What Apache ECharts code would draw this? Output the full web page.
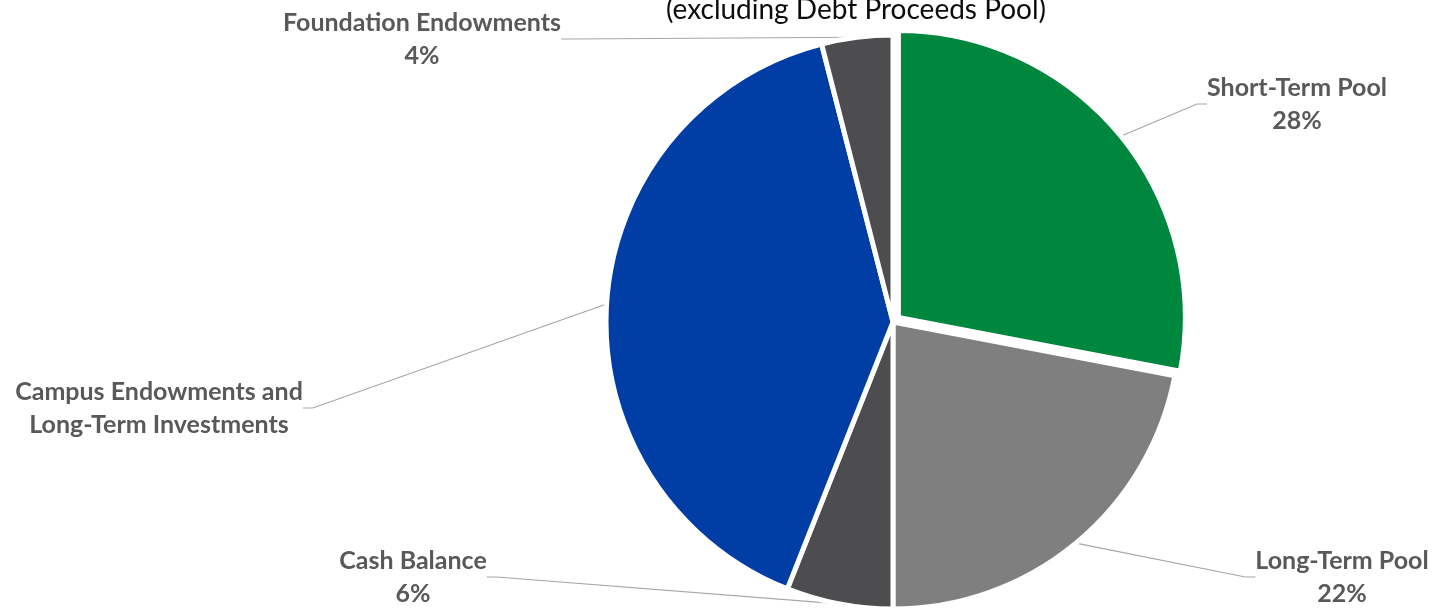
<!DOCTYPE html>
<html>
<head>
<meta charset="utf-8">
<script src="https://cdn.jsdelivr.net/npm/echarts@6/dist/echarts.min.js"></script>
<style>
  html, body { margin: 0; padding: 0; background: #ffffff; }
  #chart { width: 1435px; height: 610px; }
</style>
</head>
<body>
<div id="chart"></div>
<script>
// Pool allocation (percent of total), clockwise from 12 o'clock
const categories = [
  'Short-Term Pool',
  'Long-Term Pool',
  'Cash Balance',
  'Campus Endowments and\nLong-Term Investments',
  'Foundation Endowments'
];
const shares = [28, 22, 6, 40, 4];
const showPercent = [true, true, true, false, true];
const sliceColors = ['#00873E', '#7F7F7F', '#4D4D4F', '#003DA5', '#4D4D4F'];
const explodedIndex = 0;

// label block centres (layout only)
const labelSpots = [
  [1297, 104],
  [1342, 577],
  [413, 577],
  [159, 408],
  [422, 39]
];

const pieCenter = [893, 322];
const pieRadius = 287;
const explodeBy = 7;

// direction of the exploded slice's mid-angle, measured clockwise from 12 o'clock
const total = shares.reduce((a, b) => a + b, 0);
const before = shares.slice(0, explodedIndex).reduce((a, b) => a + b, 0);
const midAngle = (before + shares[explodedIndex] / 2) / total * 2 * Math.PI;
const explodedCenter = [
  pieCenter[0] + explodeBy * Math.sin(midAngle),
  pieCenter[1] - explodeBy * Math.cos(midAngle)
];

const hidden = { color: 'rgba(0,0,0,0)', borderColor: 'rgba(0,0,0,0)', borderWidth: 0 };

const baseData = categories.map((name, i) => ({
  name: name,
  value: shares[i],
  itemStyle: i === explodedIndex ? hidden : { color: sliceColors[i] },
  label: { formatter: showPercent[i] ? '{b}\n{d}%' : '{b}' }
}));

const explodedData = categories.map((name, i) => ({
  name: name,
  value: shares[i],
  itemStyle: i === explodedIndex ? { color: sliceColors[i] } : hidden
}));

const chart = echarts.init(document.getElementById('chart'), null, { renderer: 'canvas' });

chart.setOption({
  animation: false,
  title: {
    text: '(excluding Debt Proceeds Pool)',
    left: 851,
    textAlign: 'center',
    top: -9,
    textStyle: {
      fontFamily: 'Lato',
      fontWeight: 'normal',
      fontSize: 28,
      color: '#0D0D0D'
    }
  },
  series: [{
    type: 'pie',
    center: pieCenter,
    radius: pieRadius,
    startAngle: 90,
    clockwise: true,
    avoidLabelOverlap: false,
    silent: true,
    itemStyle: { borderColor: '#ffffff', borderWidth: 5 },
    label: {
      show: true,
      position: 'outside',
      fontFamily: 'Lato',
      fontWeight: 'bold',
      fontSize: 25,
      lineHeight: 33,
      color: '#595959',
      align: 'center'
    },
    labelLine: {
      show: true,
      length: 20,
      length2: 10,
      lineStyle: { color: '#A6A6A6', width: 1.2 }
    },
    labelLayout: function (p) {
      const s = labelSpots[p.dataIndex];
      return { x: s[0], y: s[1], align: 'center', verticalAlign: 'middle' };
    },
    emphasis: { disabled: true },
    data: baseData
  }, {
    type: 'pie',
    center: explodedCenter,
    radius: pieRadius,
    startAngle: 90,
    clockwise: true,
    silent: true,
    itemStyle: { borderColor: '#ffffff', borderWidth: 5 },
    label: { show: false },
    labelLine: { show: false },
    emphasis: { disabled: true },
    data: explodedData
  }]
});
</script>
</body>
</html>
